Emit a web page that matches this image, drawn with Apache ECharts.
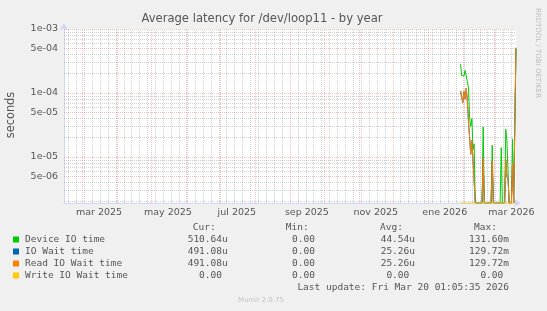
<!DOCTYPE html>
<html>
<head>
<meta charset="utf-8">
<script src="https://cdn.jsdelivr.net/npm/echarts@6/dist/echarts.min.js"></script>
<style>
html, body { margin: 0; padding: 0; background: #F0F0F0; }
#chart { width: 547px; height: 311px; }
</style>
</head>
<body>
<div id="chart"></div>
<script>
// daily averages, first day 2026-01-30, last day 2026-03-20
var firstDay = [2026, 0, 30];
var deviceIO = [2.8e-4, 1.85e-4, 1.85e-4, 1.85e-4, 2.25e-4, 2.2e-4, 1.5e-4, 1.2e-4, 4.0e-5, 3.0e-5,
    4.0e-5, 1.3e-5, 1.6e-5, 0, 0, 0, 0, 0, 0, 0,
    2.95e-5, 0, 0, 0, 0, 0, 0, 0, 1.52e-5, 0,
    0, 0, 0, 0, 0, 0, 1.4e-5, 0, 0, 0,
    2.7e-5, 1.8e-5, 1.8e-5, 0, 0, 0, 1.9e-5, 0, 0, 5.1064e-4];
var ioWait = [1.07e-4, 8.5e-5, 7.0e-5, 1.05e-4, 8.0e-5, 1.18e-4, 7.5e-5, 3.5e-5, 2.0e-5, 1.1e-5,
    1.8e-5, 9.0e-6, 8.5e-6, 0, 0, 0, 0, 0, 0, 0,
    9.4e-6, 0, 0, 0, 0, 0, 0, 0, 8.5e-6, 0,
    0, 0, 0, 0, 0, 0, 0, 0, 0, 0,
    9.0e-6, 4.9e-6, 4.5e-6, 0, 0, 0, 8.0e-6, 0, 0, 4.9108e-4];
var readIOWait = [1.07e-4, 8.5e-5, 7.0e-5, 1.05e-4, 8.0e-5, 1.18e-4, 7.5e-5, 3.5e-5, 2.0e-5, 1.1e-5,
    1.8e-5, 9.0e-6, 8.5e-6, 0, 0, 0, 0, 0, 0, 0,
    9.4e-6, 0, 0, 0, 0, 0, 0, 0, 8.5e-6, 0,
    0, 0, 0, 0, 0, 0, 0, 0, 0, 0,
    9.0e-6, 4.9e-6, 4.5e-6, 0, 0, 0, 8.0e-6, 0, 0, 4.9108e-4];
var writeIOWait = [0, 0, 0, 0, 0, 0, 0, 0, 0, 0,
    0, 0, 0, 0, 0, 0, 0, 0, 0, 0,
    0, 0, 0, 0, 0, 0, 0, 0, 0, 0,
    0, 0, 0, 0, 0, 0, 0, 0, 0, 0,
    0, 0, 0, 0, 0, 0, 0, 0, 0, 0];

var seriesNames = ['Device IO time', 'IO Wait time', 'Read IO Wait time', 'Write IO Wait time'];
var seriesColors = ['#00CC00', '#0066B3', '#FF8000', '#FFCC00'];
var curValues = ['510.64u', '491.08u', '491.08u', '0.00'];
var minValues = ['0.00', '0.00', '0.00', '0.00'];
var avgValues = ['44.54u', '25.26u', '25.26u', '0.00'];
var maxValues = ['131.60m', '129.72m', '129.72m', '0.00'];

var yTickLabels = [1e-3, 5e-4, 1e-4, 5e-5, 1e-5, 5e-6];
var xLabelMonths = [[2025, 2], [2025, 4], [2025, 6], [2025, 8], [2025, 10], [2026, 0], [2026, 2]];
var monthNames = ['ene', 'feb', 'mar', 'abr', 'may', 'jun', 'jul', 'ago', 'sep', 'oct', 'nov', 'dic'];

var DAY = 86400000;
var xMax = Date.UTC(2026, 2, 20, 1, 5, 35);
var xMin = xMax - 400 * DAY;
var yMin = 1.9e-6;
var yMax = 1e-3;

function toPoints(values) {
    var pts = [];
    for (var i = 0; i < values.length; i++) {
        var t = Date.UTC(firstDay[0], firstDay[1], firstDay[2] + i);
        // zero can't sit on a log scale, rrdtool pins it to the bottom edge
        pts.push([t, values[i] > 0 ? values[i] : yMin]);
    }
    return pts;
}

function expLabel(v) {
    var e = Math.floor(Math.log10(v) + 1e-9);
    var m = Math.round(v / Math.pow(10, e));
    var ae = Math.abs(e);
    return m + 'e' + (e < 0 ? '-' : '+') + (ae < 10 ? '0' + ae : ae);
}

// grid lines
var gridLines = [];
var majorStyle = {color: 'rgba(240, 90, 90, 0.4)', width: 1, type: [1, 1]};
var minorStyle = {color: 'rgba(150, 150, 150, 0.45)', width: 1, type: [1, 1]};
for (var k = -6; k <= -3; k++) {
    for (var m = 1; m <= 9; m++) {
        var v = m * Math.pow(10, k);
        if (v < yMin || v > yMax * 1.0001) continue;
        gridLines.push([
            {coord: [xMin, v], lineStyle: (m == 1 || m == 5) ? majorStyle : minorStyle},
            {coord: [xMax, v]}
        ]);
    }
}
for (var t = Date.UTC(2025, 1, 17); t < xMax; t += 7 * DAY) {
    if (new Date(t).getUTCDate() != 1) {
        gridLines.push([{coord: [t, yMin], lineStyle: minorStyle}, {coord: [t, yMax]}]);
    }
}
for (var mo = 0; mo < 14; mo++) {
    var ms = Date.UTC(2025, 2 + mo, 1);
    if (ms > xMin && ms < xMax) {
        gridLines.push([{coord: [ms, yMin], lineStyle: majorStyle}, {coord: [ms, yMax]}]);
    }
}

var xLabelTimes = [];
for (var i = 0; i < xLabelMonths.length; i++) {
    xLabelTimes.push(Date.UTC(xLabelMonths[i][0], xLabelMonths[i][1], 1) + 15 * DAY);
}

var seriesData = [];
var allValues = [deviceIO, ioWait, readIOWait, writeIOWait];
for (var i = 0; i < allValues.length; i++) {
    var s = {
        name: seriesNames[i],
        type: 'line',
        data: toPoints(allValues[i]),
        showSymbol: false,
        symbol: 'none',
        z: 3,
        lineStyle: {color: seriesColors[i], width: 1},
        itemStyle: {color: seriesColors[i]}
    };
    if (i == 0) {
        s.markLine = {
            z: 1,
            silent: true,
            symbol: ['none', 'none'],
            label: {show: false},
            animation: false,
            data: gridLines
        };
    }
    seriesData.push(s);
}

// legend table
var mono = '9.5px "DejaVu Sans Mono", monospace';
var cw = 5.72;
var textColor = '#555555';
var graphics = [];
function addText(str, x, y, align, font, color, extra) {
    var el = {
        type: 'text',
        x: x,
        y: y,
        silent: true,
        style: {
            text: str, x: 0, y: 0, font: font, fill: color,
            align: align, textAlign: align,
            verticalAlign: 'middle', textVerticalAlign: 'middle'
        }
    };
    if (extra) {
        for (var key in extra) el[key] = extra[key];
    }
    graphics.push(el);
}
function valueRight(colEnd, s) {
    return /[a-zA-Z]$/.test(s) ? colEnd : colEnd - cw;
}

var colEnds = [227.7, 320.7, 415, 509];
var heads = ['Cur:', 'Min:', 'Avg:', 'Max:'];
var headY = 227.5;
for (var c = 0; c < heads.length; c++) {
    addText(heads[c], colEnds[c] - 12, headY, 'right', mono, textColor);
}
var rowY = [239.5, 251.5, 263.5, 275.5];
var cols = [curValues, minValues, avgValues, maxValues];
for (var r = 0; r < seriesNames.length; r++) {
    graphics.push({
        type: 'rect',
        silent: true,
        shape: {x: 13, y: rowY[r] - 3, width: 6, height: 6},
        style: {fill: seriesColors[r]}
    });
    addText(seriesNames[r], 25, rowY[r], 'left', mono, textColor);
    for (var c = 0; c < cols.length; c++) {
        addText(cols[c][r], valueRight(colEnds[c], cols[c][r]), rowY[r], 'right', mono, textColor);
    }
}
addText('Last update: Fri Mar 20 01:05:35 2026', 509, 287.7, 'right', mono, textColor);
addText('Munin 2.0.75', 261, 300, 'center', '7px "DejaVu Sans", sans-serif', '#c4c4c4');
addText('Average latency for /dev/loop11 - by year', 262, 18.5, 'center', '11.6px "DejaVu Sans", sans-serif', '#555555');
addText('seconds', 11, 115, 'center', '11.4px "DejaVu Sans", sans-serif', '#555555', {rotation: Math.PI / 2});
addText('RRDTOOL / TOBI OETIKER', 537.5, 53, 'center', '7px "DejaVu Sans", sans-serif', '#bdbdbd', {rotation: -Math.PI / 2});

var chart = echarts.init(document.getElementById('chart'), null, {renderer: 'canvas'});
chart.setOption({
    animation: false,
    backgroundColor: '#F0F0F0',
    grid: {
        left: 64,
        right: 31,
        top: 29,
        bottom: 108,
        show: true,
        backgroundColor: '#FFFFFF',
        borderWidth: 0
    },
    xAxis: {
        type: 'value',
        min: xMin,
        max: xMax,
        axisLine: {
            show: true,
            lineStyle: {color: '#CFD6F8', width: 1},
            symbol: ['none', 'arrow'],
            symbolSize: [6, 7],
            symbolOffset: [0, 5]
        },
        axisTick: {show: false},
        splitLine: {show: false},
        axisLabel: {
            customValues: xLabelTimes,
            color: '#555555',
            fontSize: 9.5,
            fontFamily: 'DejaVu Sans',
            margin: 5,
            hideOverlap: false,
            showMinLabel: true,
            showMaxLabel: true,
            formatter: function (value) {
                var d = new Date(value);
                return monthNames[d.getUTCMonth()] + ' ' + d.getUTCFullYear();
            }
        }
    },
    yAxis: {
        type: 'log',
        logBase: 10,
        min: yMin,
        max: yMax,
        axisLine: {
            show: true,
            lineStyle: {color: '#CFD6F8', width: 1},
            symbol: ['none', 'arrow'],
            symbolSize: [6, 7],
            symbolOffset: [0, 6]
        },
        axisTick: {show: false},
        splitLine: {show: false},
        minorTick: {show: false},
        axisLabel: {
            customValues: yTickLabels,
            color: '#555555',
            fontSize: 9.5,
            fontFamily: 'DejaVu Sans',
            margin: 6,
            formatter: function (value) {
                return expLabel(value);
            }
        }
    },
    graphic: graphics,
    series: seriesData
});
</script>
</body>
</html>
